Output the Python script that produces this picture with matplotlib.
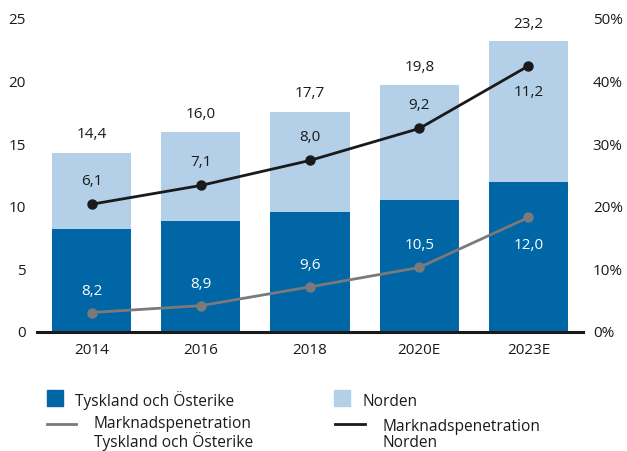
import matplotlib.pyplot as plt
import numpy as np
from matplotlib.patches import Rectangle
from matplotlib.lines import Line2D

plt.rcParams['font.family'] = ['Open Sans', 'DejaVu Sans']

# data
years = ['2014', '2016', '2018', '2020E', '2023E']
tyskland = [8.2, 8.9, 9.6, 10.5, 12.0]
norden = [6.1, 7.1, 8.0, 9.2, 11.2]
totals = [14.4, 16.0, 17.7, 19.8, 23.2]
pen_tyskland = [3.1, 4.2, 7.2, 10.3, 18.3]   # %
pen_norden = [20.4, 23.4, 27.4, 32.5, 42.5]  # %

c_dark = '#0066a6'
c_light = '#b4d0e8'
c_gray = '#7a7a7a'
c_black = '#1a1a1a'
txt = '#1a1a1a'

fig = plt.figure(figsize=(6.27, 4.51), dpi=100)
ax = fig.add_axes([0.059, 0.264, 0.871, 0.694])
x = np.arange(len(years))

ax.bar(x, tyskland, width=0.725, color=c_dark)
ax.bar(x, norden, width=0.725, bottom=tyskland, color=c_light)

ax.set_xlim(-0.5, 4.5)
ax.set_ylim(0, 25)
ax.set_yticks([0, 5, 10, 15, 20, 25])
ax.set_xticks(x)
ax.set_xticklabels(years)
for s in ['top', 'right', 'left']:
    ax.spines[s].set_visible(False)
ax.spines['bottom'].set_linewidth(2.2)
ax.spines['bottom'].set_color(c_black)
ax.tick_params(axis='both', length=0, labelsize=11, colors=txt)
ax.tick_params(axis='x', pad=8)
ax.tick_params(axis='y', pad=8)

ax2 = ax.twinx()
ax2.set_ylim(0, 50)
ax2.set_yticks([0, 10, 20, 30, 40, 50])
ax2.set_yticklabels([f'{v}%' for v in [0, 10, 20, 30, 40, 50]])
for s in ax2.spines.values():
    s.set_visible(False)
ax2.tick_params(axis='y', length=0, labelsize=11, colors=txt, pad=7)

ax2.plot(x, pen_tyskland, color=c_gray, lw=2, marker='o', ms=6.5)
ax2.plot(x, pen_norden, color=c_black, lw=2, marker='o', ms=6.5)

fmt = lambda v: f'{v:.1f}'.replace('.', ',')
for i in x:
    ax.annotate(fmt(totals[i]), (i, totals[i]), xytext=(0, 12), textcoords='offset points',
                ha='center', va='center', fontsize=11, color=txt)
    dy = 16.5 if i < len(x) - 1 else -19
    ax2.annotate(fmt(norden[i]), (i, pen_norden[i]), xytext=(0, dy), textcoords='offset points',
                 ha='center', va='center', fontsize=11, color=txt)
    dy = 15.5 if i < len(x) - 1 else -20
    ax2.annotate(fmt(tyskland[i]), (i, pen_tyskland[i]), xytext=(0, dy), textcoords='offset points',
                 ha='center', va='center', fontsize=11, color='white')

# legend (drawn by hand in pixel positions)
W, H = 627, 451
def fx(px): return px / W
def fy(py): return 1 - py / H

def legend_text(px, py, s):
    # baseline of the last line sits at py
    fig.text(fx(px), fy(py), s, fontsize=11.2, va='baseline', color=txt, linespacing=1.0)

fig.patches.append(Rectangle((fx(47), fy(406)), fx(16), 16 / H, transform=fig.transFigure, color=c_dark))
legend_text(75, 406, 'Tyskland och Österike')
fig.patches.append(Rectangle((fx(334), fy(406)), fx(16), 16 / H, transform=fig.transFigure, color=c_light))
legend_text(362, 406, 'Norden')

fig.lines.append(Line2D([fx(47), fx(76)], [fy(424), fy(424)], transform=fig.transFigure, color=c_gray, lw=2))
legend_text(94, 447, 'Marknadspenetration\nTyskland och Österike')
fig.lines.append(Line2D([fx(335), fx(365)], [fy(424), fy(424)], transform=fig.transFigure, color=c_black, lw=2))
legend_text(382, 447, 'Marknadspenetration\nNorden')

fig.savefig('out.png', dpi=100)
